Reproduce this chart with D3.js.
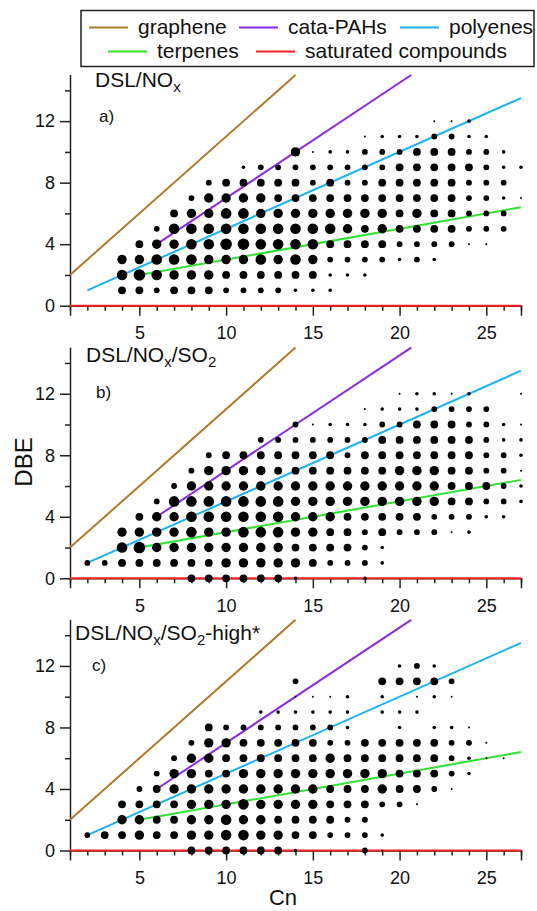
<!DOCTYPE html>
<html><head><meta charset="utf-8">
<script src="https://cdn.jsdelivr.net/npm/d3@7"></script>
<style>
html,body{margin:0;padding:0;background:#fff;}
svg{display:block;font-family:"Liberation Sans",Arial,sans-serif;}
</style></head>
<body>
<svg id="chart" width="537" height="911"></svg>
<script>
// ---------- data ----------
const cnDomain = [1, 27];
const dbeDomain = [0, 15];
const xTickMajor = [5, 10, 15, 20, 25];
const xTickMinor = [1,2,3,4,6,7,8,9,11,12,13,14,16,17,18,19,21,22,23,24,26,27];
const yTickMajor = [0, 4, 8, 12];
const yTickMinor = [2, 6, 10, 14];

const panelTitles = [
  [["DSL/NO", ""], ["x", "sub"]],
  [["DSL/NO", ""], ["x", "sub"], ["/SO", ""], ["2", "sub"]],
  [["DSL/NO", ""], ["x", "sub"], ["/SO", ""], ["2", "sub"], ["-high*", ""]]
];
const panelLetters = ["a)", "b)", "c)"];

// reference lines
const lineNames = ["graphene", "cata-PAHs", "polyenes", "terpenes", "saturated compounds"];
const lineColors = ["#B07A2A", "#8A2BE2", "#1CB0F6", "#33E033", "#FF2020"];
const lineStarts = [[1, 2], [6, 4], [2, 1], [5, 2], [1, 0]];
const lineEnds = [[14, 15], [20.67, 15], [27, 13.5], [27, 6.4], [27, 0]];

// intensity levels per row: [DBE, first Cn, levels by successive Cn (0 = none)]
const intensityA = [
  [1, 4, [4,4,3,4,4,4,3,3,3,3,2,2,2]],
  [2, 4, [6,7,6,5,5,5,4,4,4,4,4,4,2,2,2]],
  [3, 4, [5,5,6,6,6,5,5,5,6,5,6,5,3,3,3,3,2,3,2]],
  [4, 5, [4,5,5,6,6,7,7,6,6,6,6,4,4,4,4,3,3,3,3,1,1]],
  [5, 6, [3,6,6,6,6,6,6,6,6,6,6,5,4,5,4,4,4,4,3,3,3]],
  [6, 7, [4,5,5,6,6,5,5,5,5,5,5,5,5,4,5,4,4,3,3,3]],
  [7, 8, [3,5,5,5,5,4,4,4,4,4,4,4,4,4,4,4,3,3,2,1]],
  [8, 9, [3,4,4,4,4,4,3,4,3,3,4,4,4,4,4,3,3,3]],
  [9, 11, [2,3,3,3,3,3,3,3,3,4,4,4,4,4,3,2,2]],
  [10, 14, [5,1,2,2,3,3,3,4,4,4,3,3,2]],
  [11, 18, [1,2,2,2,3,3,2,2]],
  [12, 22, [1,1,2]]
];
const intensityB = [
  [0, 8, [4,4,4,4,4,4,2,0,0,0,2]],
  [1, 2, [3,3,4,4,4,4,4,4,5,5,5,5,5,4,3,3,3,2]],
  [2, 4, [6,7,5,5,5,5,5,5,5,5,4,4,4,4,3,2]],
  [3, 4, [5,5,5,5,6,5,5,6,6,6,5,5,4,4,3,4,3,3,3,1,2]],
  [4, 5, [4,5,5,6,6,6,6,6,6,5,5,5,4,4,4,4,4,3,3,3,2,2]],
  [5, 6, [3,6,6,6,6,6,6,6,5,5,5,5,5,5,5,5,5,4,4,3,3,2]],
  [6, 7, [3,5,5,5,5,5,5,5,5,5,5,5,5,5,5,5,4,4,4,3,2]],
  [7, 8, [3,5,5,5,5,4,4,4,4,4,4,4,5,5,5,4,4,3,3,1]],
  [8, 9, [3,4,4,4,4,4,4,4,3,4,4,4,4,4,4,4,3,3,2]],
  [9, 12, [3,3,3,3,3,3,3,4,4,4,4,4,4,3,2,2]],
  [10, 14, [3,1,2,2,2,3,3,4,4,4,3,3,2,1]],
  [11, 18, [1,2,2,2,3,3,3,3]],
  [12, 20, [1,2,2,1,2,0,0,1]]
];
const intensityC = [
  [0, 8, [4,4,4,4,4,4,2,0,0,0,3,1]],
  [1, 2, [3,4,4,5,4,4,5,5,6,6,5,5,4,4,3,3,3,2]],
  [2, 4, [5,5,4,4,5,5,6,5,5,4,4,4,4,3,3]],
  [3, 4, [4,4,4,4,5,5,5,6,5,5,5,5,4,4,4,3,3,1]],
  [4, 5, [3,4,5,5,5,5,5,5,5,5,5,4,4,4,5,4,4,3,1]],
  [5, 6, [3,5,5,4,4,5,5,5,5,5,5,5,5,5,4,4,4,3,2]],
  [6, 7, [3,5,5,4,4,4,4,4,4,5,4,4,4,4,4,4,3,2,1,1]],
  [7, 8, [3,5,5,4,4,4,4,4,3,3,4,4,4,4,4,3,3,1]],
  [8, 9, [4,3,3,3,3,3,3,3,2,0,0,2,0,2,2,1]],
  [9, 12, [2,2,2,2,2,2,0,2,2,2]],
  [10, 14, [1,1,1,2,0,2,0,1,2,1]],
  [11, 14, [3,0,0,0,0,4,4,4,4,3]],
  [12, 20, [2,3,2]]
];
const panelData = [intensityA, intensityB, intensityC];

// ---------- layout ----------
const svg = d3.select("#chart");
const left = 70, right = 521;
const panelBottoms = [305.7, 578.3, 850.5];
const panelHeight = 230.7;
const titlePos = [[95, 92], [86, 367], [75, 645]];
const letterPos = [[99, 122], [96, 398], [92, 671]];

const x = d3.scaleLinear().domain(cnDomain).range([left, right]);
const r = d3.scaleLinear().domain([1, 2, 3, 4, 5, 6, 7]).range([1.0, 1.8, 2.9, 3.9, 4.7, 5.3, 5.8]);

panelData.forEach((rows, pi) => {
  const bottom = panelBottoms[pi];
  const y = d3.scaleLinear().domain(dbeDomain).range([bottom, bottom - panelHeight]);
  const g = svg.append("g");

  // y axis
  const yMaj = d3.axisLeft(y).tickValues(yTickMajor).tickSize(10).tickPadding(5).tickFormat(d3.format("d"));
  const yMin = d3.axisLeft(y).tickValues(yTickMinor).tickSize(5).tickFormat("");
  const ya = g.append("g").attr("transform", `translate(${left},0)`).call(yMaj);
  g.append("g").attr("transform", `translate(${left},0)`).call(yMin).select(".domain").remove();
  ya.select(".domain").attr("d", `M0.5,${y(15)}V${bottom}`);
  // x axis
  const xMaj = d3.axisBottom(x).tickValues(xTickMajor).tickSize(10).tickPadding(11).tickFormat(d3.format("d"));
  const xMin = d3.axisBottom(x).tickValues(xTickMinor).tickSize(5).tickFormat("");
  g.append("g").attr("transform", `translate(0,${bottom})`).call(xMaj);
  g.append("g").attr("transform", `translate(0,${bottom})`).call(xMin).select(".domain").remove();
  g.selectAll(".domain, .tick line").attr("stroke", "#222").attr("stroke-width", 1.5);
  g.selectAll(".tick text").attr("font-size", 18).attr("fill", "#111")
    .attr("font-family", "'Liberation Sans', Arial, sans-serif");

  // reference lines
  lineNames.forEach((n, i) => {
    g.append("line")
      .attr("x1", x(lineStarts[i][0])).attr("y1", y(lineStarts[i][1]))
      .attr("x2", x(lineEnds[i][0])).attr("y2", y(lineEnds[i][1]))
      .attr("stroke", lineColors[i]).attr("stroke-width", 2);
  });

  // dots
  const pts = [];
  rows.forEach(([dbe, c0, levels]) => {
    levels.forEach((lv, k) => { if (lv > 0) pts.push({cn: c0 + k, dbe, lv}); });
  });
  g.selectAll("circle.dot").data(pts).join("circle")
    .attr("class", "dot")
    .attr("cx", d => x(d.cn)).attr("cy", d => y(d.dbe)).attr("r", d => r(d.lv))
    .attr("fill", "#000");

  // title
  const t = g.append("text").attr("x", titlePos[pi][0]).attr("y", titlePos[pi][1])
    .attr("font-size", 21).attr("fill", "#111");
  panelTitles[pi].forEach(([s, kind]) => {
    if (kind === "sub") t.append("tspan").attr("font-size", 15).attr("dy", 5).text(s);
    else t.append("tspan").attr("dy", t.selectAll("tspan").size() ? -5 : 0).text(s);
  });
  g.append("text").attr("x", letterPos[pi][0]).attr("y", letterPos[pi][1])
    .attr("font-size", 17).attr("fill", "#111").text(panelLetters[pi]);
});

// axis titles
svg.append("text").attr("transform", "translate(32,462) rotate(-90)")
  .attr("text-anchor", "middle").attr("font-size", 24).attr("fill", "#111").text("DBE");
svg.append("text").attr("x", 283).attr("y", 905)
  .attr("text-anchor", "middle").attr("font-size", 22).attr("fill", "#111").text("Cn");

// legend
const lg = svg.append("g");
lg.append("rect").attr("x", 81).attr("y", 10.5).attr("width", 453).attr("height", 56)
  .attr("fill", "#fff").attr("stroke", "#222").attr("stroke-width", 1.5);
const legendLineX = [89, 239, 400, 108, 256];
const legendRowY = [27.5, 51.5];
const legendRow = [0, 0, 0, 1, 1];
lineNames.forEach((n, i) => {
  const yy = legendRowY[legendRow[i]];
  lg.append("line").attr("x1", legendLineX[i]).attr("x2", legendLineX[i] + 39)
    .attr("y1", yy).attr("y2", yy).attr("stroke", lineColors[i]).attr("stroke-width", 2);
  lg.append("text").attr("x", legendLineX[i] + 49).attr("y", yy + 6.5)
    .attr("font-size", 21).attr("fill", "#111").text(n);
});
</script>
</body></html>
